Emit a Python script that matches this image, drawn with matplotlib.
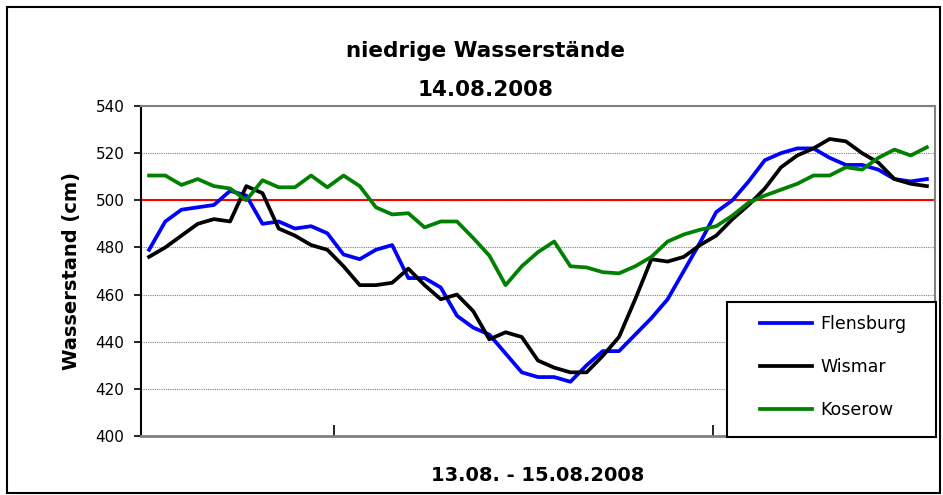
import numpy as np
import matplotlib
matplotlib.use('Agg')
import matplotlib.pyplot as plt
from matplotlib.patches import Rectangle

# hourly readings, 13.08. - 15.08.2008
flensburg = [479, 491, 496, 497, 498, 504, 502, 490, 491, 488,
             489, 486, 477, 475, 479, 481, 467, 467, 463, 451,
             446, 443, 435, 427, 425, 425, 423, 430, 436, 436,
             443, 450, 458, 470, 482, 495, 500, 508, 517, 520,
             522, 522, 518, 515, 515, 513, 509, 508, 509]
wismar = [476, 480, 485, 490, 492, 491, 506, 503, 488, 485,
          481, 479, 472, 464, 464, 465, 471, 464, 458, 460,
          453, 441, 444, 442, 432, 429, 427, 427, 434, 442,
          458, 475, 474, 476, 481, 485, 492, 498, 505, 514,
          519, 522, 526, 525, 520, 516, 509, 507, 506]
koserow = [510.5, 510.5, 506.5, 509, 506, 505, 500, 508.5, 505.5, 505.5,
           510.5, 505.5, 510.5, 506, 497, 494, 494.5, 488.5, 491, 491,
           484, 476.5, 464, 472, 478, 482.5, 472, 471.5, 469.5, 469,
           472, 476, 482.5, 485.5, 487.5, 489, 493.5, 499, 502, 504.5,
           507, 510.5, 510.5, 514, 513, 518, 521.5, 519, 522.5]
stations = ['Flensburg', 'Wismar', 'Koserow']
colors = ['#0000FF', '#000000', '#008000']
threshold = 500
day_ticks = [11.43, 34.79]

x = np.arange(len(flensburg))

fig = plt.figure(figsize=(9.43, 4.95), dpi=100)
ax = fig.add_axes([0.1495, 0.1192, 0.842, 0.6667])

ax.grid(axis='y', color='#808080', linestyle=(0, (1, 1)), linewidth=0.8)
ax.set_axisbelow(True)
ax.axhline(threshold, color='#FF0000', linewidth=1.5, zorder=2)

for name, vals, c in zip(stations, [flensburg, wismar, koserow], colors):
    ax.plot(x, vals, color=c, linewidth=2.7, label=name, zorder=3)

ax.set_xlim(-0.5, len(x) - 0.5)
ax.set_ylim(400, 540)
ax.set_yticks(np.arange(400, 541, 20))
ax.set_xticks(day_ticks)
ax.set_xticklabels(['', ''])
ax.tick_params(axis='x', direction='in', length=8, width=1.2, colors='black')
ax.tick_params(axis='y', direction='out', length=5, width=1.2, labelsize=11, pad=7)

ax.spines['left'].set_color('black')
ax.spines['left'].set_linewidth(1.5)
for s in ['top', 'right', 'bottom']:
    ax.spines[s].set_color('#808080')
    ax.spines[s].set_linewidth(1.5)
ax.spines['bottom'].set_linewidth(2)

ax.set_ylabel('Wasserstand (cm)', fontsize=14, fontweight='bold', labelpad=10)
ax.set_xlabel('13.08. - 15.08.2008', fontsize=14, fontweight='bold', labelpad=18)

fig.text(0.515, 0.8855, 'niedrige Wasserstände', fontsize=15.5, fontweight='bold',
         ha='center', va='baseline')
fig.text(0.515, 0.806, '14.08.2008', fontsize=15.5, fontweight='bold',
         ha='center', va='baseline')

# legend box (drawn separately so the padding can match)
box = Rectangle((727 / 943, 1 - 437 / 495), 209 / 943, 135 / 495,
                transform=fig.transFigure, facecolor='white', edgecolor='black',
                linewidth=1.5, zorder=5, clip_on=False)
ax.add_patch(box)
leg = ax.legend(loc='center', bbox_to_anchor=(833 / 943, 1 - 367 / 495),
                bbox_transform=fig.transFigure, borderaxespad=0,
                fontsize=12.5, handlelength=3.0, handletextpad=0.5,
                labelspacing=1.45, borderpad=0.2, frameon=False)
leg.set_zorder(6)

fig.patches.append(Rectangle((7 / 943, 2 / 495), 933 / 943, 486 / 495,
                             transform=fig.transFigure, fill=False,
                             edgecolor='black', linewidth=1.5))

fig.savefig('out.png', dpi=100)
